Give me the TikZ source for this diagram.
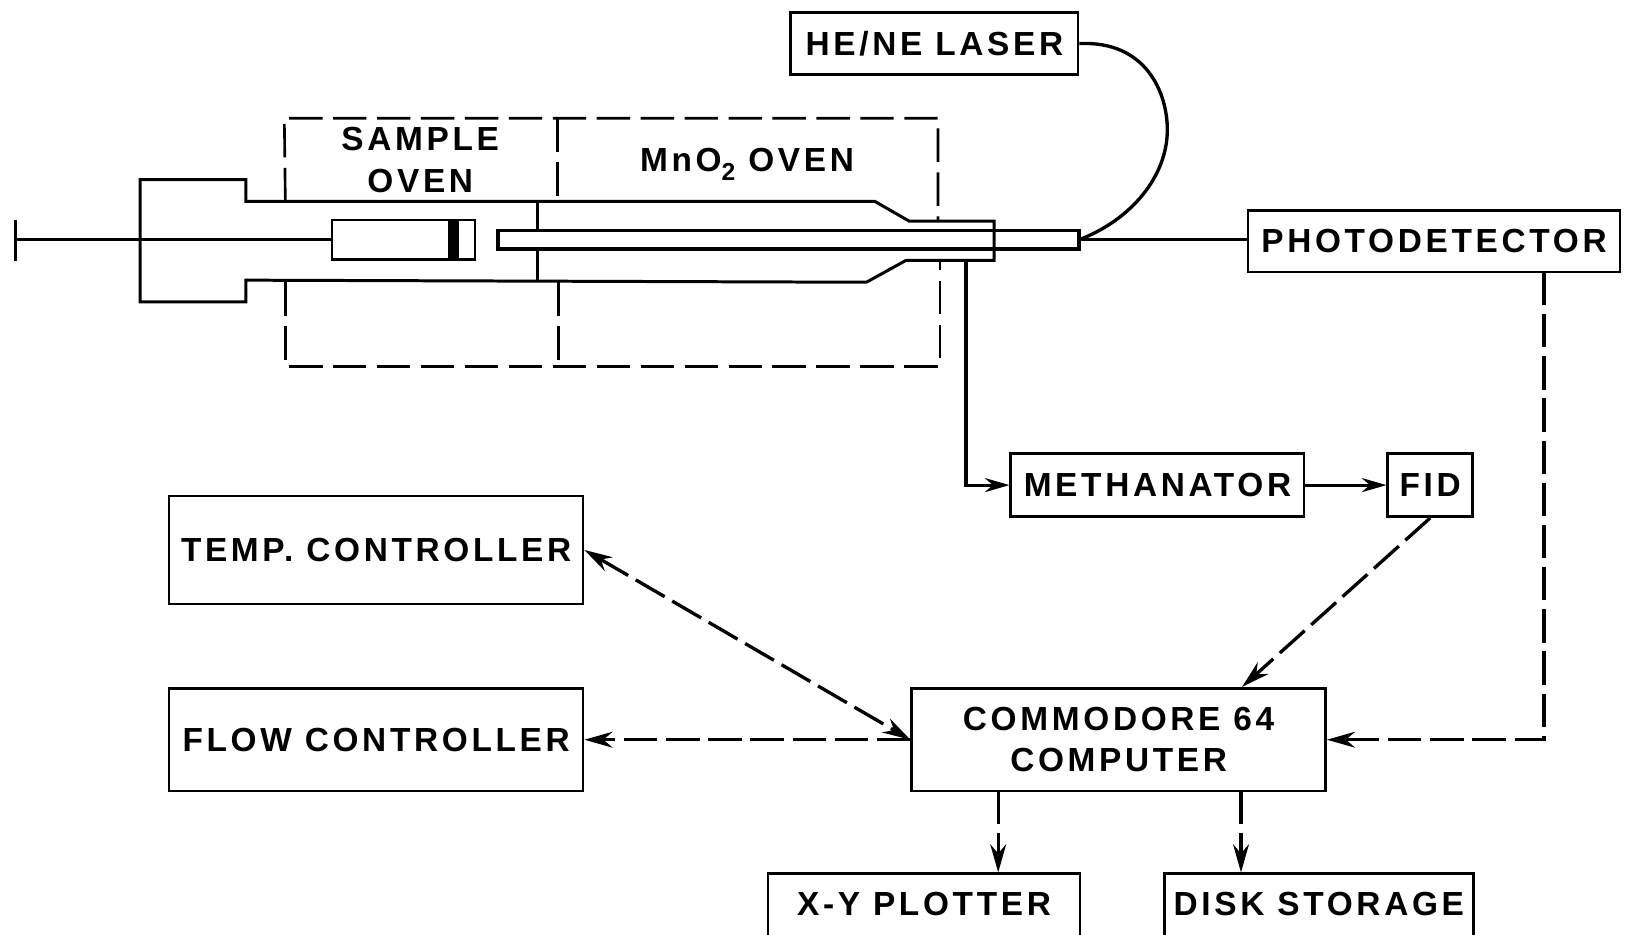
\documentclass[tikz,border=0pt]{standalone}
\usepackage{fontspec}
\setmainfont[LetterSpace=11]{Liberation Sans}
\usetikzlibrary{arrows.meta, positioning}

\begin{document}
\begin{tikzpicture}[
  x=0.02075cm, y=-0.02075cm,
  box/.style={draw, line width=1.4pt, inner sep=0pt, align=center, font=\fontsize{19}{23.6}\selectfont\bfseries},
  lab/.style={inner sep=0pt, align=center, font=\fontsize{19}{23.6}\selectfont\bfseries},
  cropped/.style={text height=0pt, text depth=0pt},
  wall/.style={line width=1.7pt},
  oven/.style={line width=1.5pt, dash pattern=on 19pt off 6pt},
  solidarr/.style={line width=1.8pt, -{Stealth[length=14pt, width=8pt]}},
  dasharr/.style={line width=1.9pt, dash pattern=on 19pt off 5pt, -{Stealth[length=16pt, width=9pt]}},
  dashboth/.style={line width=1.9pt, dash pattern=on 19pt off 5pt, {Stealth[length=16pt, width=9pt]}-{Stealth[length=16pt, width=9pt]}}
]
  \useasboundingbox (0,0) rectangle (1568,901);

  % boxes
  \node[box, minimum width=5.75cm, minimum height=1.245cm] (laser) at (900.5,42) {HE/NE LASER};
  \node[box, minimum width=7.43cm, minimum height=1.225cm] (photo) at (1382,232.5) {PHOTODETECTOR};
  \node[box, minimum width=5.87cm, minimum height=1.265cm] (meth) at (1115.5,467.5) {METHANATOR};
  \node[box, minimum width=1.7cm, minimum height=1.265cm, right=1.62cm of meth] (fid) {FID};
  \node[box, minimum width=8.28cm, minimum height=2.158cm] (temp) at (362.5,530) {TEMP. CONTROLLER};
  \node[box, minimum width=8.28cm, minimum height=2.054cm, below=1.64cm of temp] (flow) {FLOW CONTROLLER};
  \node[box, minimum width=8.28cm, minimum height=2.054cm, right=6.52cm of flow] (comp) {COMMODORE 64\\COMPUTER};
  \node[box, cropped, minimum width=6.245cm, minimum height=1.66cm] (xy) at (890.5,882) {X-Y PLOTTER};
  \node[box, cropped, minimum width=6.18cm, minimum height=1.66cm] (disk) at (1271,882) {DISK STORAGE};

  \node[lab] (sample) at (405,154) {SAMPLE\\OVEN};
  \node[lab] (mno) at (720,158) {MnO{\fontsize{14}{14}\selectfont\raisebox{-5pt}{2}} OVEN};

  % furnace tube
  \draw[wall] (237,194) -- (237,173) -- (135,173) -- (135,291) -- (237,291) -- (237,270)
    -- (835,272) -- (873,251) -- (958,251) -- (958,213) -- (876,213) -- (843,194) -- cycle;
  \draw[wall] (518,194) -- (518,222);
  \draw[wall] (518,240) -- (518,271);
  \draw[wall, line width=2pt] (480,222) rectangle (1040,240);
  \node[draw, line width=1.5pt, inner sep=0pt, minimum width=2.86cm, minimum height=0.79cm] (syringe) at (389,231) {};
  \fill (432,212) rectangle (442,250);
  \coordinate (stop) at (15,231);
  \draw[wall, line width=2pt] (15,212) -- (15,252);
  \draw[wall, line width=1.9pt] (stop) -- (syringe.west);

  % ovens
  \draw[oven] (275,194) -- (274,114) -- (904,114) -- (904,213);
  \draw[oven] (275,272) -- (275,353) -- (906,353) -- (906,251);
  \draw[oven] (537,114) -- (537,194);
  \draw[oven] (538,272) -- (538,353);

  % connectors
  \coordinate (tubeend) at (1040,231);
  \coordinate (tap) at (931,251);
  \coordinate (pdout) at (1488,262);
  \coordinate (compin) at (1197,662);
  \coordinate (compxy) at (962,762);
  \coordinate (compdisk) at (1196,762);
  \draw[wall, line width=1.9pt] (laser.east) .. controls (1105,39) and (1125,90) .. (1125,125)
    .. controls (1125,170) and (1090,212) .. (tubeend);
  \draw[wall, line width=1.9pt] (tubeend) -- (tubeend -| photo.west);
  \draw[solidarr] (tap) |- (meth.west);
  \draw[solidarr] (meth) -- (fid);
  \draw[dasharr] (fid.south) -- (compin);
  \draw[dasharr] (pdout) |- (comp.east);
  \draw[dashboth] (temp.east) -- (comp.west);
  \draw[dasharr] (comp.west) -- (flow.east);
  \draw[dasharr] (compxy) -- (compxy |- xy.north);
  \draw[dasharr] (compdisk) -- (compdisk |- disk.north);
\end{tikzpicture}
\end{document}
